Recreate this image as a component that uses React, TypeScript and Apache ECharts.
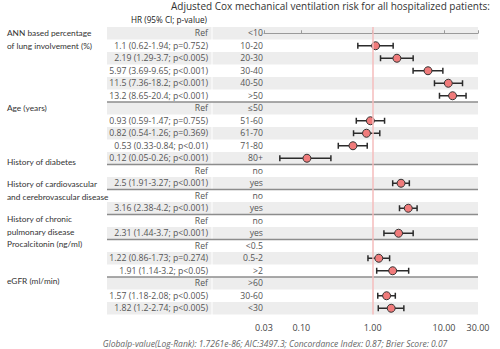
import React, { useEffect, useRef } from "react";
import * as echarts from "echarts";

const title = "Adjusted Cox mechanical ventilation risk for all hospitalized patients:";
const header = "HR (95% CI; p-value)";
const footer =
  "Globalp-value(Log-Rank): 1.7261e-86; AIC:3497.3; Concordance Index: 0.87; Brier Score: 0.07";

const groupLabels = [
  "ANN based percentage\nof lung involvement (%)",
  "Age (years)",
  "History of diabetes",
  "History of cardiovascular\nand cerebrovascular disease",
  "History of chronic\npulmonary disease",
  "Procalcitonin (ng/ml)",
  "eGFR (ml/min)",
];
const groupSizes = [6, 5, 2, 2, 2, 3, 3];

const levels = [
  "<10", "10-20", "20-30", "30-40", "40-50", ">50",
  "≤50", "51-60", "61-70", "71-80", "80+",
  "no", "yes",
  "no", "yes",
  "no", "yes",
  "<0.5", "0.5-2", ">2",
  ">60", "30-60", "<30",
];
const hrLabels = [
  "Ref", "1.1 (0.62-1.94; p=0.752)", "2.19 (1.29-3.7; p<0.005)", "5.97 (3.69-9.65; p<0.001)",
  "11.5 (7.36-18.2; p<0.001)", "13.2 (8.65-20.4; p<0.001)",
  "Ref", "0.93 (0.59-1.47; p=0.755)", "0.82 (0.54-1.26; p=0.369)", "0.53 (0.33-0.84; p<0.01)",
  "0.12 (0.05-0.26; p<0.001)",
  "Ref", "2.5 (1.91-3.27; p<0.001)",
  "Ref", "3.16 (2.38-4.2; p<0.001)",
  "Ref", "2.31 (1.44-3.7; p<0.001)",
  "Ref", "1.22 (0.86-1.73; p=0.274)", "1.91 (1.14-3.2; p<0.05)",
  "Ref", "1.57 (1.18-2.08; p<0.005)", "1.82 (1.2-2.74; p<0.005)",
];
const hr = [
  null, 1.1, 2.19, 5.97, 11.5, 13.2,
  null, 0.93, 0.82, 0.53, 0.12,
  null, 2.5,
  null, 3.16,
  null, 2.31,
  null, 1.22, 1.91,
  null, 1.57, 1.82,
];
const lower = [
  null, 0.62, 1.29, 3.69, 7.36, 8.65,
  null, 0.59, 0.54, 0.33, 0.05,
  null, 1.91,
  null, 2.38,
  null, 1.44,
  null, 0.86, 1.14,
  null, 1.18, 1.2,
];
const upper = [
  null, 1.94, 3.7, 9.65, 18.2, 20.4,
  null, 1.47, 1.26, 0.84, 0.26,
  null, 3.27,
  null, 4.2,
  null, 3.7,
  null, 1.73, 3.2,
  null, 2.08, 2.74,
];
const xMin = 0.03;
const xMax = 30;

const FONT = "Open Sans";

export default function App() {
  const ref = useRef<HTMLDivElement>(null);

  useEffect(() => {
    if (!ref.current) return;
    const chart = echarts.init(ref.current, null, { renderer: "svg" });
    const n = levels.length;

    const rows = levels.map((_, i) => [0, i]);
    const shaded = rows.filter((r) => r[1] % 2 === 0);
    const boundaries: number[][] = [];
    let acc = 0;
    groupSizes.slice(0, -1).forEach((s) => {
      acc += s;
      boundaries.push([0, acc - 0.5]);
    });

    const pts: number[][] = [];
    const bars: number[][] = [];
    hr.forEach((v, i) => {
      if (v != null) {
        pts.push([v, i]);
        bars.push([lower[i] as number, upper[i] as number, i]);
      }
    });

    const groupTextY = [39.5, 108, 162, 190.5, 225.5, 244, 281];

    const option: any = {
      animation: false,
      textStyle: { fontFamily: FONT },
      title: {
        text: title,
        left: 171,
        top: 1,
        padding: 0,
        textStyle: { fontSize: 10, fontWeight: "normal", color: "#333", fontFamily: FONT },
      },
      grid: [
        { left: 107, right: 22, top: 27, height: 287.5 },
        { left: 264, right: 22, top: 27, height: 287.5 },
      ],
      xAxis: [
        { gridIndex: 0, type: "value", min: 0, max: 1, show: false },
        {
          gridIndex: 1,
          type: "log",
          min: xMin,
          max: xMax,
          axisLine: { show: true, lineStyle: { color: "#9a9a9a", width: 1 } },
          axisTick: { show: true, inside: true, length: 3, lineStyle: { color: "#9a9a9a" } },
          splitLine: { show: false },
          axisLabel: {
            fontSize: 9,
            color: "#444",
            margin: 8,
            fontFamily: FONT,
            formatter: (v: number) => Number(v).toFixed(2),
          },
        },
      ],
      yAxis: [
        { gridIndex: 0, type: "value", min: -0.5, max: n - 0.5, inverse: true, show: false },
        { gridIndex: 1, type: "value", min: -0.5, max: n - 0.5, inverse: true, show: false },
      ],
      series: [
        {
          type: "custom",
          xAxisIndex: 0,
          yAxisIndex: 0,
          z: 0,
          silent: true,
          clip: false,
          data: shaded,
          renderItem: (params: any, api: any) => {
            const i = api.value(1);
            const a = api.coord([0, i - 0.5]);
            const b = api.coord([1, i + 0.5]);
            const sep = a[0] + 105;
            return {
              type: "group",
              children: [
                {
                  type: "rect",
                  shape: { x: a[0], y: a[1], width: sep - 0.5 - a[0], height: b[1] - a[1] },
                  style: { fill: "#ededed" },
                },
                {
                  type: "rect",
                  shape: { x: sep + 0.5, y: a[1], width: b[0] - sep - 0.5, height: b[1] - a[1] },
                  style: { fill: "#ededed" },
                },
              ],
            };
          },
        },
        {
          type: "custom",
          xAxisIndex: 0,
          yAxisIndex: 0,
          z: 1,
          silent: true,
          clip: false,
          data: boundaries,
          renderItem: (params: any, api: any) => {
            const y = api.value(1);
            const a = api.coord([0, y]);
            const b = api.coord([1, y]);
            return {
              type: "line",
              shape: { x1: a[0], y1: a[1], x2: b[0], y2: b[1] },
              style: { stroke: "#8c8c8c", lineWidth: 1.5 },
            };
          },
        },
        {
          type: "custom",
          xAxisIndex: 0,
          yAxisIndex: 0,
          z: 2,
          silent: true,
          clip: false,
          data: rows,
          renderItem: (params: any, api: any) => {
            const i = api.value(1);
            const p = api.coord([0, i]);
            return {
              type: "group",
              children: [
                {
                  type: "text",
                  x: p[0] + 101,
                  y: p[1],
                  style: {
                    text: hrLabels[i],
                    align: "right",
                    verticalAlign: "middle",
                    fontSize: 8.7,
                    fontFamily: FONT,
                    fill: "#555",
                  },
                },
                {
                  type: "text",
                  x: p[0] + 156,
                  y: p[1],
                  style: {
                    text: levels[i],
                    align: "right",
                    verticalAlign: "middle",
                    fontSize: 8.7,
                    fontFamily: FONT,
                    fill: "#555",
                  },
                },
              ],
            };
          },
        },
        {
          type: "line",
          xAxisIndex: 1,
          yAxisIndex: 1,
          z: 2,
          data: [],
          markLine: {
            silent: true,
            symbol: "none",
            label: { show: false },
            lineStyle: { color: "#f5bcbc", width: 1.5, type: "solid" },
            data: [{ xAxis: 1 }],
          },
        },
        {
          type: "custom",
          xAxisIndex: 1,
          yAxisIndex: 1,
          z: 3,
          silent: true,
          clip: false,
          encode: { x: [0, 1], y: 2 },
          data: bars,
          renderItem: (params: any, api: any) => {
            const y = api.value(2);
            const a = api.coord([api.value(0), y]);
            const b = api.coord([api.value(1), y]);
            const st = { stroke: "#2b2b2b", lineWidth: 1.5 };
            return {
              type: "group",
              children: [
                { type: "line", shape: { x1: a[0], y1: a[1], x2: b[0], y2: b[1] }, style: st },
                { type: "line", shape: { x1: a[0], y1: a[1] - 3, x2: a[0], y2: a[1] + 3 }, style: st },
                { type: "line", shape: { x1: b[0], y1: b[1] - 3, x2: b[0], y2: b[1] + 3 }, style: st },
              ],
            };
          },
        },
        {
          type: "scatter",
          xAxisIndex: 1,
          yAxisIndex: 1,
          z: 4,
          silent: true,
          symbol: "circle",
          symbolSize: 8,
          itemStyle: { color: "#f07b7b", borderColor: "#333", borderWidth: 1, opacity: 1 },
          data: pts,
        },
      ],
      graphic: [
        {
          type: "text",
          x: 169,
          y: 19.5,
          style: {
            text: header,
            align: "center",
            verticalAlign: "middle",
            fontSize: 8.2,
            fontFamily: FONT,
            fill: "#222",
          },
        },
        ...groupLabels.map((t, k) => ({
          type: "text",
          x: 7,
          y: groupTextY[k],
          style: {
            text: t,
            align: "left",
            verticalAlign: "middle",
            fontSize: 8.3,
            lineHeight: 12.5,
            fontFamily: "Lato",
            fill: "#333",
          },
        })),
        {
          type: "text",
          x: 275,
          y: 343,
          style: {
            text: footer,
            align: "center",
            verticalAlign: "middle",
            fontSize: 8.5,
            fontStyle: "italic",
            fontFamily: FONT,
            fill: "#666",
          },
        },
      ],
    };

    chart.setOption(option);
    return () => chart.dispose();
  }, []);

  return (
    <div
      ref={ref}
      style={{ position: "fixed", left: 0, top: 0, width: 500, height: 349, background: "#fff" }}
    />
  );
}
